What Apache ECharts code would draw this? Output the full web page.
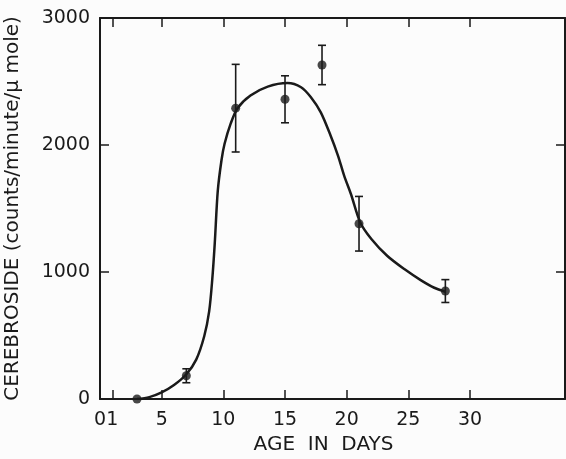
<!DOCTYPE html>
<html>
<head>
<meta charset="utf-8">
<script src="https://cdnjs.cloudflare.com/ajax/libs/echarts/6.0.0/echarts.min.js"></script>
<style>
  html, body { margin: 0; padding: 0; background: #fcfcfc; }
  #myChart { width: 566px; height: 459px; }
</style>
</head>
<body>
<div id="myChart"></div>
<script type="text/javascript">

  // measured points (mean and error bar half-height)
  var days = [3, 7, 11, 15, 18, 21, 28];
  var means = [0, 183, 2290, 2360, 2630, 1380, 850];
  var errs = [0, 55, 345, 185, 155, 215, 90];

  // hand drawn fitted curve
  var curveDays = [3, 4, 5, 6, 7, 7.8, 8.45, 8.85, 9.1, 9.3, 9.55, 9.85, 10.1, 10.6, 11.15, 12.2, 13.6, 15.2, 16.3, 17.1, 17.9, 18.7, 19.3, 19.8, 20.35, 21.1, 22, 23.3, 24.7, 26, 27.1, 28];
  var curveValues = [0, 15, 52, 110, 195, 310, 494, 690, 940, 1220, 1640, 1880, 2010, 2170, 2290, 2390, 2460, 2488, 2455, 2376, 2257, 2073, 1915, 1757, 1612, 1390, 1260, 1126, 1021, 936, 876, 845];

  // axis ticks and labels
  var xLabels = [0, 1, 5, 10, 15, 20, 25, 30];
  var xTicks = [1, 5, 10, 15, 20, 25, 30];
  var yLabels = [0, 1000, 2000, 3000];
  var yTicks = [1000, 2000];

  var ink = "#1a1a1a";
  var font = "DejaVu Sans";

  var chartDom = document.getElementById("myChart");
  var myChart = echarts.init(chartDom);

  var points = days.map(function (d, i) { return [d, means[i]]; });
  var bars = days.map(function (d, i) { return [d, means[i] - errs[i], means[i] + errs[i]]; });
  var curve = curveDays.map(function (d, i) { return [d, curveValues[i]]; });

  var tickStyle = { inside: true, length: 9, lineStyle: { color: ink, width: 1.5 } };
  var lineStyle = { show: true, onZero: false, lineStyle: { color: ink, width: 2 } };
  var plain = function (v) { return String(v); };

  var option = {
    backgroundColor: "#fcfcfc",
    animation: false,
    grid: { left: 100, right: 1, top: 18, bottom: 60, containLabel: false, outerBoundsMode: "none" },
    xAxis: [
      {
        type: "value", min: 0, max: 37.7, position: "bottom",
        axisLine: lineStyle,
        axisTick: Object.assign({ customValues: xTicks }, tickStyle),
        splitLine: { show: false },
        axisLabel: { customValues: xLabels, formatter: plain, color: ink, fontFamily: font, fontSize: 19, margin: 12 },
        name: "AGE  IN  DAYS", nameLocation: "middle", nameGap: 34,
        nameTextStyle: { color: ink, fontFamily: font, fontSize: 20, padding: [0, 18, 0, 0] }
      },
      {
        type: "value", min: 0, max: 37.7, position: "top",
        axisLine: lineStyle,
        axisTick: Object.assign({ customValues: xTicks }, tickStyle),
        splitLine: { show: false },
        axisLabel: { show: false }
      }
    ],
    yAxis: [
      {
        type: "value", min: 0, max: 3000, position: "left",
        axisLine: lineStyle,
        axisTick: Object.assign({ customValues: yTicks }, tickStyle),
        splitLine: { show: false },
        axisLabel: { customValues: yLabels, formatter: plain, color: ink, fontFamily: font, fontSize: 19, margin: 10 },
        name: "CEREBROSIDE (counts/minute/\u03bc mole)", nameLocation: "middle", nameGap: 77,
        nameTextStyle: { color: ink, fontFamily: font, fontSize: 20 }
      },
      {
        type: "value", min: 0, max: 3000, position: "right",
        axisLine: lineStyle,
        axisTick: Object.assign({ customValues: yTicks }, tickStyle),
        splitLine: { show: false },
        axisLabel: { show: false }
      }
    ],
    series: [
      {
        type: "line",
        data: curve,
        smooth: 0.3,
        showSymbol: false,
        lineStyle: { color: ink, width: 2.5 }
      },
      {
        type: "custom",
        data: bars,
        renderItem: function (params, api) {
          var x = api.value(0);
          var lo = api.coord([x, api.value(1)]);
          var hi = api.coord([x, api.value(2)]);
          if (Math.abs(lo[1] - hi[1]) < 1) return null;
          var cap = 4;
          var style = { stroke: ink, lineWidth: 1.6 };
          return {
            type: "group",
            children: [
              { type: "line", shape: { x1: hi[0], y1: hi[1], x2: lo[0], y2: lo[1] }, style: style },
              { type: "line", shape: { x1: hi[0] - cap, y1: hi[1], x2: hi[0] + cap, y2: hi[1] }, style: style },
              { type: "line", shape: { x1: lo[0] - cap, y1: lo[1], x2: lo[0] + cap, y2: lo[1] }, style: style }
            ]
          };
        },
        z: 3
      },
      {
        type: "scatter",
        data: points,
        symbolSize: 9,
        itemStyle: { color: ink },
        z: 4
      }
    ]
  };

  option && myChart.setOption(option);
</script>
</body>
</html>
